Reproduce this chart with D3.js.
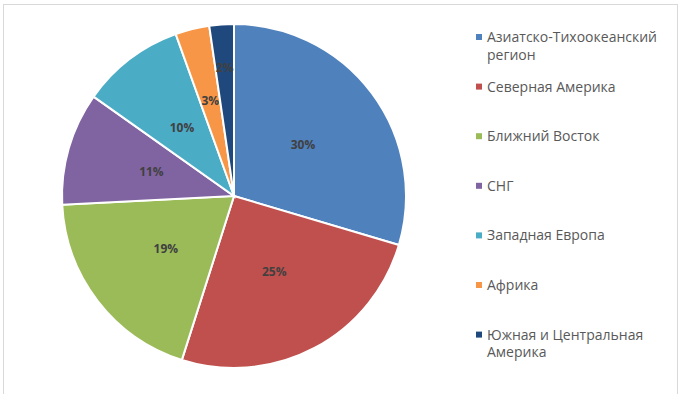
<!DOCTYPE html>
<html>
<head>
<meta charset="utf-8">
<script src="https://cdn.jsdelivr.net/npm/d3@7"></script>
<style>
  body { margin: 0; background: #fff; }
  svg { display: block; }
</style>
</head>
<body>
<div id="chart"></div>
<script>
"use strict";

// data (shares in %)
const regions = [
  "Азиатско-Тихоокеанский регион",
  "Северная Америка",
  "Ближний Восток",
  "СНГ",
  "Западная Европа",
  "Африка",
  "Южная и Центральная Америка"
];
const shares = [29.6, 25.3, 19.3, 10.6, 9.7, 3.2, 2.3];
const colors = ["#4F81BD", "#C0504D", "#9BBB59", "#8064A2", "#4BACC6", "#F79646", "#1F497D"];

const svgWidth = 682,
    svgHeight = 394;

const svg = d3.select("#chart").append("svg")
    .attr("width", svgWidth)
    .attr("height", svgHeight);

// chart frame (bottom edge runs off the picture)
svg.append("rect")
    .attr("x", 3.5).attr("y", 4.5)
    .attr("width", 674).attr("height", 420)
    .attr("fill", "none")
    .attr("stroke", "#d9d9d9");

const cx = 234, cy = 196, radius = 172;

const data = regions.map((r, i) => ({ name: r, value: shares[i], color: colors[i] }));
const total = d3.sum(shares);

const pie = d3.pie().sort(null).value(d => d.value);
const arcs = pie(data);
const arc = d3.arc().innerRadius(0).outerRadius(radius);

const pieG = svg.append("g").attr("transform", `translate(${cx},${cy})`);

pieG.selectAll("path")
    .data(arcs)
    .enter()
    .append("path")
    .attr("d", arc)
    .attr("fill", d => d.data.color)
    .attr("stroke", "#fff")
    .attr("stroke-width", 2);

// small slices get their labels pushed outward, like excel does
function labelRadius(d) {
    const s = d.data.value / total;
    if (s < 0.025) return radius * 0.75;
    if (s < 0.05) return radius * 0.57;
    return radius * 0.5;
}

pieG.selectAll("text")
    .data(arcs)
    .enter()
    .append("text")
    .attr("transform", d => {
        const r = labelRadius(d);
        const c = d3.arc().innerRadius(r).outerRadius(r).centroid(d);
        return `translate(${c[0]},${c[1]})`;
    })
    .attr("dy", "0.35em")
    .attr("text-anchor", "middle")
    .style("font-family", "'Open Sans', sans-serif")
    .style("font-size", "12px")
    .style("font-weight", "bold")
    .attr("fill", "#404040")
    .text(d => Math.round(d.data.value / total * 100) + "%");

// legend
const legendX = 476, legendTop = 37, legendStep = 49.6, lineH = 18;
const legendLines = [
    ["Азиатско-Тихоокеанский", "регион"],
    ["Северная Америка"],
    ["Ближний Восток"],
    ["СНГ"],
    ["Западная Европа"],
    ["Африка"],
    ["Южная и Центральная", "Америка"]
];

const legend = svg.append("g");
const items = legend.selectAll("g")
    .data(data)
    .enter()
    .append("g")
    .attr("transform", (d, i) => `translate(${legendX},${legendTop + i * legendStep})`);

items.append("rect")
    .attr("x", 0).attr("y", -3)
    .attr("width", 6).attr("height", 6)
    .attr("fill", d => d.color);

items.append("text")
    .attr("x", 11)
    .attr("dy", "0.35em")
    .style("font-family", "'Open Sans', sans-serif")
    .style("font-size", "14px")
    .attr("fill", "#595959")
    .each(function (d, i) {
        const t = d3.select(this);
        legendLines[i].forEach((line, j) => {
            t.append("tspan")
                .attr("x", 11)
                .attr("y", j * lineH)
                .attr("dy", "0.35em")
                .text(line);
        });
    });
</script>
</body>
</html>
